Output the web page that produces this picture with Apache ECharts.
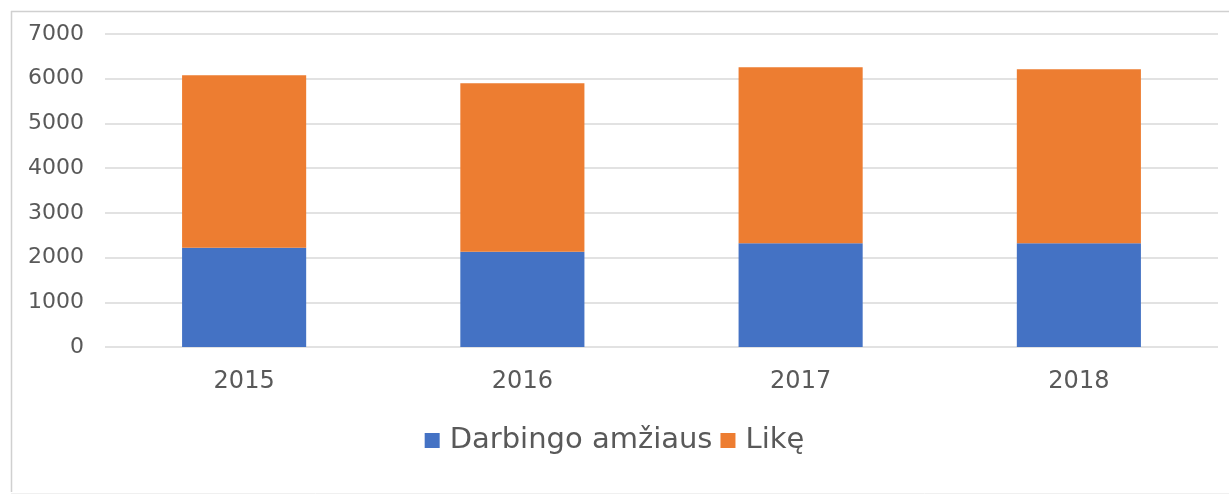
<!DOCTYPE html>
<html><head><meta charset="utf-8">
<script src="https://cdn.jsdelivr.net/npm/echarts@6/dist/echarts.min.js"></script>
<style>html,body{margin:0;padding:0;background:#fff}#c{width:1229px;height:497px}</style>
</head><body><div id="c"></div>
<script>
const categories = ['2015', '2016', '2017', '2018'];
const darbingo = [2221, 2132, 2320, 2320];
const likeTotal = [6078, 5899, 6257, 6212];
const like = likeTotal.map((t, i) => t - darbingo[i]);
const yTicks = [0, 1000, 2000, 3000, 4000, 5000, 6000, 7000];

const chart = echarts.init(document.getElementById('c'), null, {renderer: 'canvas'});
const font = 'DejaVu Sans, Verdana, sans-serif';
chart.setOption({
  animation: false,
  backgroundColor: '#fff',
  graphic: [
    {type: 'line', shape: {x1: 11.5, y1: 11, x2: 11.5, y2: 492}, style: {stroke: '#d0d0d0', lineWidth: 1.5}},
    {type: 'line', shape: {x1: 11, y1: 11.5, x2: 1229, y2: 11.5}, style: {stroke: '#d0d0d0', lineWidth: 1.5}},
    {type: 'line', shape: {x1: 11, y1: 493.5, x2: 1229, y2: 493.5}, style: {stroke: '#f0f0f0', lineWidth: 1}}
  ],
  grid: {left: 105, right: 11, top: 34, bottom: 150, containLabel: false},
  legend: {
    data: ['Darbingo amžiaus', 'Likę'],
    top: 421, left: 'center',
    itemWidth: 15, itemHeight: 15, itemGap: 8,
    icon: 'rect',
    textStyle: {fontFamily: font, fontSize: 29, color: '#595959', padding: [0, 0, 0, 5]}
  },
  xAxis: {
    type: 'category', data: categories,
    axisLine: {show: false}, axisTick: {show: false},
    axisLabel: {fontFamily: font, fontSize: 24, color: '#595959', margin: 23}
  },
  yAxis: {
    type: 'value', min: yTicks[0], max: yTicks[yTicks.length - 1], interval: 1000,
    axisLine: {show: false}, axisTick: {show: false},
    axisLabel: {fontFamily: font, fontSize: 22, color: '#595959', margin: 21, formatter: v => String(v)},
    splitLine: {lineStyle: {color: '#d9d9d9', width: 1.5}}
  },
  series: [
    {name: 'Darbingo amžiaus', type: 'bar', stack: 's', data: darbingo, barWidth: '44.6%', itemStyle: {color: '#4472c4'}},
    {name: 'Likę', type: 'bar', stack: 's', data: like, barWidth: '44.6%', itemStyle: {color: '#ed7d31'}}
  ]
});
</script></body></html>
